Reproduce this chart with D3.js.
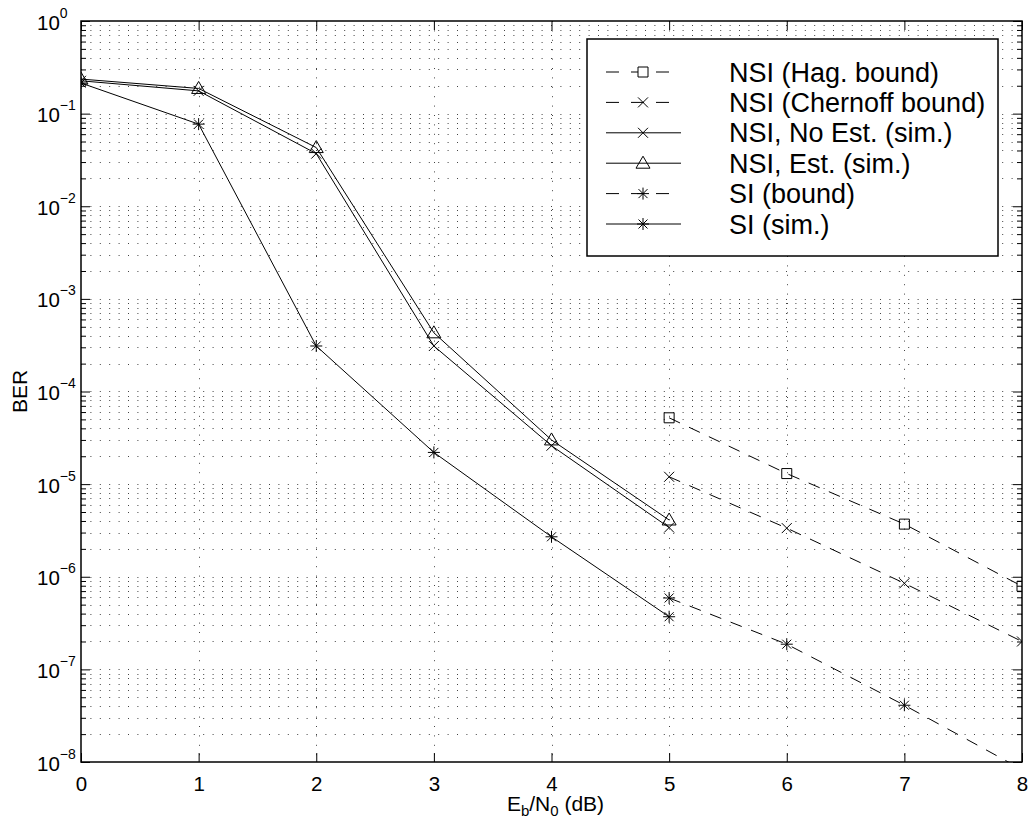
<!DOCTYPE html>
<html><head><meta charset="utf-8">
<script src="https://cdn.jsdelivr.net/npm/d3@7"></script>
<style>body{margin:0;background:#fff} text{font-family:"Liberation Sans",Arial,Helvetica,sans-serif;fill:#000}</style>
</head><body><svg id="c" width="1029" height="821"></svg>
<script>
// ---- data ----
const xTicks = [0,1,2,3,4,5,6,7,8];
const xBound = [5,6,7,8];
const xSim = [0,1,2,3,4,5];
const nsiHag = [5.2e-5,1.3e-5,3.7e-6,7.9e-7];
const nsiChernoff = [1.2e-5,3.35e-6,8.5e-7,2.0e-7];
const nsiNoEst = [0.226,0.176,0.037,3.1e-4,2.6e-5,3.4e-6];
const nsiEst = [0.236,0.187,0.043,4.3e-4,3.0e-5,4.1e-6];
const siBound = [5.9e-7,1.87e-7,4.1e-8,8.3e-9];
const siSim = [0.214,0.077,3.1e-4,2.2e-5,2.7e-6,3.7e-7];
const yExponents = [0,-1,-2,-3,-4,-5,-6,-7,-8];
const legendLabels = ["NSI (Hag. bound)","NSI (Chernoff bound)","NSI, No Est. (sim.)","NSI, Est. (sim.)","SI (bound)","SI (sim.)"];
const yLabel = "BER";

const series = [
  {xs:xBound, ys:nsiHag, dashed:true, marker:"square"},
  {xs:xBound, ys:nsiChernoff, dashed:true, marker:"x"},
  {xs:xSim, ys:nsiNoEst, dashed:false, marker:"x"},
  {xs:xSim, ys:nsiEst, dashed:false, marker:"triangle"},
  {xs:xBound, ys:siBound, dashed:true, marker:"star"},
  {xs:xSim, ys:siSim, dashed:false, marker:"star"}
];

const L=81, R=1022, T=21, B=762;
const svg = d3.select("#c");
const x = d3.scaleLinear().domain([0,8]).range([L,R]);
const y = d3.scaleLog().domain([1e-8,1]).range([B,T]);

const decades = yExponents.map(e=>Math.pow(10,e));
const minor = [];
yExponents.slice(1).forEach(e=>{for(let m=2;m<=9;m++) minor.push(m*Math.pow(10,e));});

// grid
const grid = svg.append("g").attr("stroke","#444").attr("stroke-width",1).attr("stroke-dasharray","1,8.4").attr("fill","none");
grid.selectAll(".h").data(decades.concat(minor).filter(v=>v<1&&v>1e-8)).enter().append("line")
  .attr("x1",L).attr("x2",R).attr("y1",d=>Math.round(y(d))+0.5).attr("y2",d=>Math.round(y(d))+0.5);
grid.selectAll(".v").data(xTicks.filter(v=>v>0&&v<8)).enter().append("line")
  .attr("y1",T).attr("y2",B).attr("x1",d=>Math.round(x(d))+0.5).attr("x2",d=>Math.round(x(d))+0.5);

// axes
function styleAxis(g){g.select(".domain").remove();g.selectAll(".tick line").attr("stroke","#000");}
svg.append("g").attr("transform",`translate(0,${B})`)
  .call(d3.axisBottom(x).tickValues(xTicks).tickSize(-9).tickPadding(14).tickFormat(d3.format("d")))
  .call(styleAxis).call(g=>g.selectAll("text").attr("font-size",20.5));
svg.append("g").attr("transform",`translate(0,${T})`)
  .call(d3.axisTop(x).tickValues(xTicks).tickSize(-9).tickFormat(""))
  .call(styleAxis);
const yl = svg.append("g").attr("transform",`translate(${L},0)`)
  .call(d3.axisLeft(y).tickValues(decades).tickSize(-9).tickFormat(""))
  .call(styleAxis);
svg.append("g").attr("transform",`translate(${L},0)`)
  .call(d3.axisLeft(y).tickValues(minor).tickSize(-5).tickFormat(""))
  .call(styleAxis);
svg.append("g").attr("transform",`translate(${R},0)`)
  .call(d3.axisRight(y).tickValues(decades).tickSize(-9).tickFormat(""))
  .call(styleAxis);
svg.append("g").attr("transform",`translate(${R},0)`)
  .call(d3.axisRight(y).tickValues(minor).tickSize(-5).tickFormat(""))
  .call(styleAxis);

// y tick labels with superscripts
yl.selectAll(".tick").each(function(d){
  const t = d3.select(this).append("text").attr("x",37-L).attr("y",8).attr("text-anchor","start").attr("font-size",20.5);
  t.append("tspan").text("10");
  const e = Math.round(Math.log10(d));
  t.append("tspan").attr("dy",-12).attr("font-size",14).text(e===0?"0":"\u2212"+Math.abs(e));
});

// frame
svg.append("rect").attr("x",L).attr("y",T).attr("width",R-L).attr("height",B-T)
  .attr("fill","none").attr("stroke","#000").attr("stroke-width",1.5);

// markers
function markerPath(m){
  switch(m){
    case "square": return "M-5,-5H5V5H-5Z";
    case "x": return "M-5,-5L5,5M-5,5L5,-5";
    case "triangle": return "M0,-7L7,5L-7,5Z";
    case "star": return "M-6,0H6M0,-6V6M-4.5,-4.5L4.5,4.5M-4.5,4.5L4.5,-4.5";
  }
}

svg.append("defs").append("clipPath").attr("id","clip").append("rect")
  .attr("x",L).attr("y",T).attr("width",R-L).attr("height",B-T);
const plot = svg.append("g").attr("clip-path","url(#clip)");
const line = d3.line().x(d=>x(d[0])).y(d=>y(d[1]));
series.forEach(s=>{
  const pts = s.xs.map((v,i)=>[v,s.ys[i]]);
  plot.append("path").attr("d",line(pts)).attr("fill","none").attr("stroke","#000").attr("stroke-width",1)
    .attr("stroke-dasharray",s.dashed?"12,10":null);
  plot.selectAll(null).data(pts).enter().append("path")
    .attr("transform",d=>`translate(${x(d[0])},${y(d[1])})`)
    .attr("d",markerPath(s.marker)).attr("fill","none").attr("stroke","#000").attr("stroke-width",1);
});

// axis labels
const xl = svg.append("text").attr("x",(L+R)/2+4).attr("y",811).attr("text-anchor","middle").attr("font-size",21);
xl.append("tspan").text("E");
xl.append("tspan").attr("font-size",15).attr("dy",5).text("b");
xl.append("tspan").attr("dy",-5).text("/N");
xl.append("tspan").attr("font-size",15).attr("dy",5).text("0");
xl.append("tspan").attr("dy",-5).text(" (dB)");
svg.append("text").attr("transform",`translate(27,${(T+B)/2}) rotate(-90)`).attr("text-anchor","middle").attr("font-size",21).text(yLabel);

// legend
const lg = svg.append("g");
lg.append("rect").attr("x",587).attr("y",39).attr("width",411).attr("height",217)
  .attr("fill","#fff").attr("stroke","#000").attr("stroke-width",1.5);
legendLabels.forEach((lab,i)=>{
  const s = series[i];
  const cy = 72 + i*30.4;
  lg.append("line").attr("x1",606).attr("x2",681).attr("y1",cy).attr("y2",cy)
    .attr("stroke","#000").attr("stroke-width",1).attr("stroke-dasharray",s.dashed?"13,12":null);
  lg.append("path").attr("transform",`translate(643,${cy})`).attr("d",markerPath(s.marker))
    .attr("fill",s.marker==="square"?"#fff":"none").attr("stroke","#000").attr("stroke-width",1);
  lg.append("text").attr("x",729).attr("y",cy+9.5).attr("font-size",27).text(lab);
});
</script></body></html>
